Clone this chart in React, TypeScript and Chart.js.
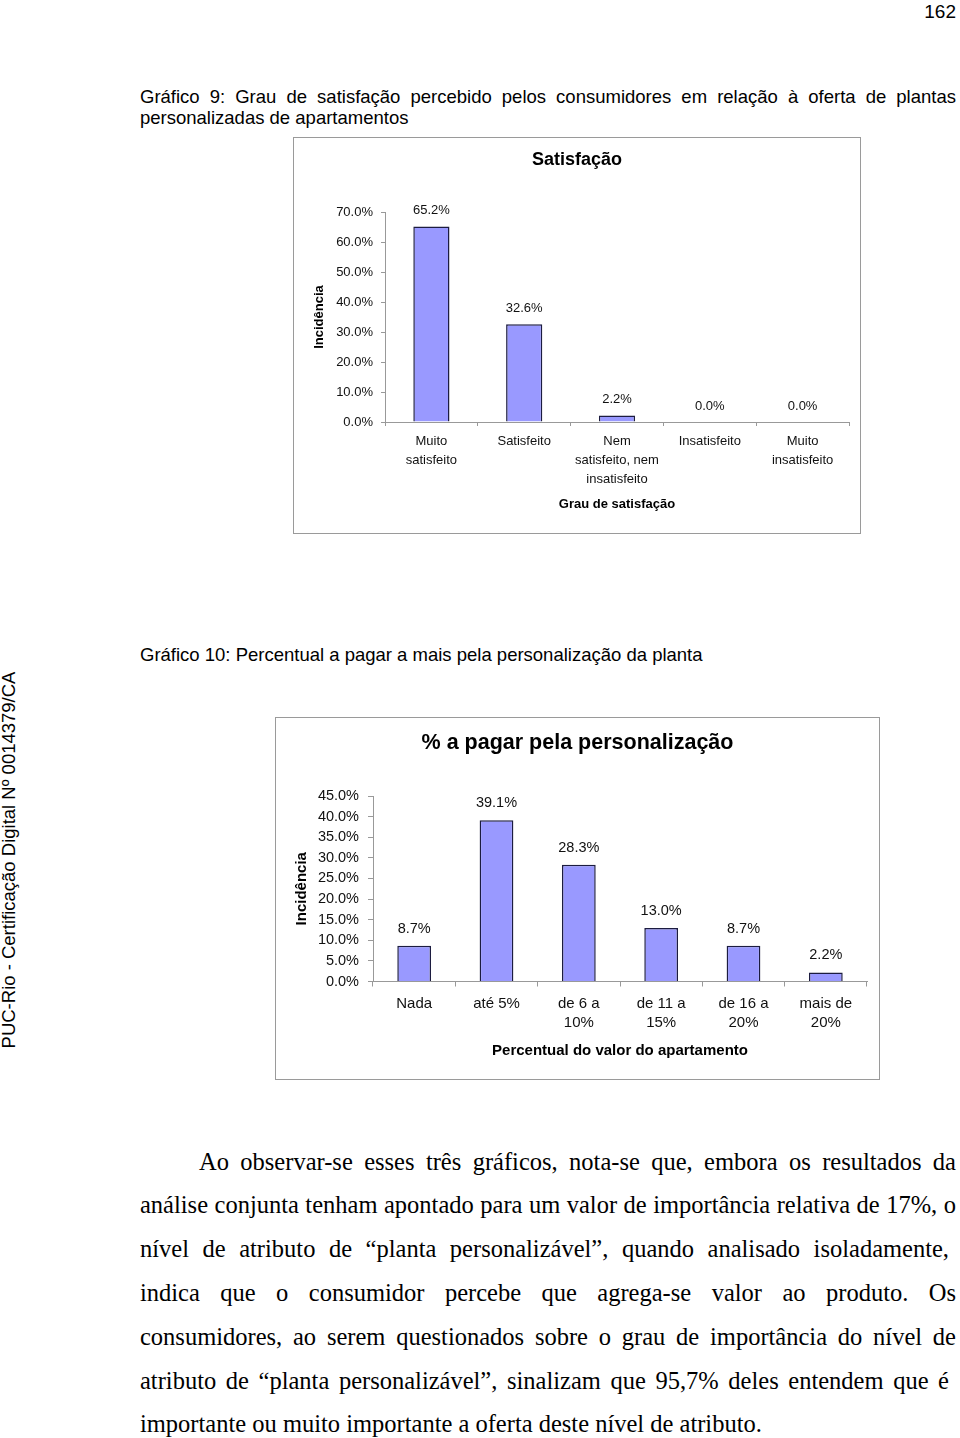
import React, { useEffect, useRef } from 'react';
import { Chart, registerables } from 'chart.js';

Chart.register(...registerables);

const SANS = '"Liberation Sans", Arial, sans-serif';
const SERIF = '"Liberation Serif", "Times New Roman", serif';

// ---- Chart 1 data ----
const satisfacaoTitle = 'Satisfação';
const satisfacaoCategories: string[][] = [
  ['Muito', 'satisfeito'],
  ['Satisfeito'],
  ['Nem', 'satisfeito, nem', 'insatisfeito'],
  ['Insatisfeito'],
  ['Muito', 'insatisfeito'],
];
const satisfacaoValues = [65.2, 32.6, 2.2, 0.0, 0.0];
const satisfacaoYTitle = 'Incidência';
const satisfacaoXTitle = 'Grau de satisfação';
const satisfacaoYMax = 70;
const satisfacaoYStep = 10;

// ---- Chart 2 data ----
const pagarTitle = '% a pagar pela personalização';
const pagarCategories: string[][] = [
  ['Nada'],
  ['até 5%'],
  ['de 6 a', '10%'],
  ['de 11 a', '15%'],
  ['de 16 a', '20%'],
  ['mais de', '20%'],
];
const pagarValues = [8.7, 39.1, 28.3, 13.0, 8.7, 2.2];
const pagarYTitle = 'Incidência';
const pagarXTitle = 'Percentual do valor do apartamento';
const pagarYMax = 45;
const pagarYStep = 5;

const valueLabels = {
  id: 'valueLabels',
  afterDatasetsDraw(chart: any, _args: any, opts: any) {
    const { ctx } = chart;
    const meta = chart.getDatasetMeta(0);
    const data = chart.data.datasets[0].data;
    ctx.save();
    ctx.font = `${opts.size}px ${SANS}`;
    ctx.fillStyle = opts.color || '#111';
    ctx.textAlign = 'center';
    ctx.textBaseline = 'middle';
    meta.data.forEach((bar: any, i: number) => {
      ctx.fillText(Number(data[i]).toFixed(1) + '%', bar.x, bar.y - opts.offset);
    });
    ctx.restore();
  },
};

type Spec = {
  title: string;
  categories: string[][];
  values: number[];
  yTitle: string;
  xTitle: string;
  yMax: number;
  yStep: number;
  width: number;
  height: number;
  titleSize: number;
  titlePad: { top: number; bottom: number };
  yScaleWidth: number;
  xScaleHeight: number;
  padLeft: number;
  padRight: number;
  tickSize: number;
  xTickSize: number;
  xLineHeight: number;
  axisTitleSize: number;
  yTitlePad: number;
  xTitlePad: number;
  tickLength: number;
  yTickPad: number;
  xTickPad: number;
  barPct: number;
  labelSize: number;
  labelOffset: number;
};

function BarChart({ spec }: { spec: Spec }) {
  const ref = useRef<HTMLCanvasElement | null>(null);
  useEffect(() => {
    if (!ref.current) return;
    const chart = new Chart(ref.current, {
      type: 'bar',
      data: {
        labels: spec.categories,
        datasets: [
          {
            data: spec.values,
            backgroundColor: '#9999ff',
            borderColor: '#1c1c40',
            borderWidth: 1.5,
            categoryPercentage: 1,
            barPercentage: spec.barPct,
          },
        ],
      },
      options: {
        responsive: false,
        animation: false,
        layout: { padding: { left: spec.padLeft, right: spec.padRight, top: 0, bottom: 0 } },
        plugins: {
          legend: { display: false },
          tooltip: { enabled: false },
          title: {
            display: true,
            text: spec.title,
            color: '#000',
            font: { family: SANS, size: spec.titleSize, weight: 'bold' },
            padding: spec.titlePad,
          },
          valueLabels: { size: spec.labelSize, offset: spec.labelOffset, color: '#111' },
        } as any,
        scales: {
          x: {
            grid: {
              drawOnChartArea: false,
              drawTicks: true,
              tickLength: spec.tickLength,
              color: '#999',
            },
            border: { display: true, color: '#999', width: 1 },
            ticks: {
              color: '#111',
              padding: spec.xTickPad,
              maxRotation: 0,
              autoSkip: false,
              font: { family: SANS, size: spec.xTickSize, lineHeight: spec.xLineHeight },
            },
            title: {
              display: true,
              text: spec.xTitle,
              color: '#000',
              font: { family: SANS, size: spec.axisTitleSize, weight: 'bold' },
              padding: { top: 0, bottom: spec.xTitlePad },
            },
            afterFit: (scale: any) => {
              scale.height = spec.xScaleHeight;
            },
          },
          y: {
            min: 0,
            max: spec.yMax,
            grid: {
              drawOnChartArea: false,
              drawTicks: true,
              tickLength: spec.tickLength,
              color: '#999',
            },
            border: { display: true, color: '#999', width: 1 },
            ticks: {
              stepSize: spec.yStep,
              color: '#111',
              padding: spec.yTickPad,
              font: { family: SANS, size: spec.tickSize },
              callback: (v: any) => Number(v).toFixed(1) + '%',
            },
            title: {
              display: true,
              text: spec.yTitle,
              color: '#000',
              font: { family: SANS, size: spec.axisTitleSize, weight: 'bold' },
              padding: { top: spec.yTitlePad, bottom: 0 },
            },
            afterFit: (scale: any) => {
              scale.width = spec.yScaleWidth;
            },
          },
        },
      },
      plugins: [valueLabels],
    } as any);
    return () => chart.destroy();
  }, [spec]);
  return <canvas ref={ref} width={spec.width} height={spec.height} style={{ display: 'block' }} />;
}

const spec1: Spec = {
  title: satisfacaoTitle,
  categories: satisfacaoCategories,
  values: satisfacaoValues,
  yTitle: satisfacaoYTitle,
  xTitle: satisfacaoXTitle,
  yMax: satisfacaoYMax,
  yStep: satisfacaoYStep,
  width: 568,
  height: 397,
  titleSize: 18,
  titlePad: { top: 12, bottom: 41.4 },
  yScaleWidth: 80,
  xScaleHeight: 112,
  padLeft: 12,
  padRight: 12,
  tickSize: 13,
  xTickSize: 13,
  xLineHeight: 19 / 13,
  axisTitleSize: 13,
  yTitlePad: 7,
  xTitlePad: 22,
  tickLength: 4,
  yTickPad: 8,
  xTickPad: 5.5,
  barPct: 0.39,
  labelSize: 13,
  labelOffset: 15.5,
};

const spec2: Spec = {
  title: pagarTitle,
  categories: pagarCategories,
  values: pagarValues,
  yTitle: pagarYTitle,
  xTitle: pagarXTitle,
  yMax: pagarYMax,
  yStep: pagarYStep,
  width: 605,
  height: 363,
  titleSize: 21.5,
  titlePad: { top: 13.1, bottom: 40.1 },
  yScaleWidth: 85,
  xScaleHeight: 98.5,
  padLeft: 13,
  padRight: 13,
  tickSize: 14.5,
  xTickSize: 15,
  xLineHeight: 19 / 15,
  axisTitleSize: 15,
  yTitlePad: 5,
  xTitlePad: 20,
  tickLength: 5,
  yTickPad: 9,
  xTickPad: 8,
  barPct: 0.41,
  labelSize: 14.5,
  labelOffset: 17,
};

const caption1Line1 =
  'Gráfico 9: Grau de satisfação percebido pelos consumidores em relação à oferta de plantas';
const caption1Line2 = 'personalizadas de apartamentos';
const caption2 = 'Gráfico 10: Percentual a pagar a mais pela personalização da planta';
const watermark = 'PUC-Rio - Certificação Digital Nº 0014379/CA';
const pageNumber = '162';
const paragraphLines = [
  'Ao observar-se esses três gráficos, nota-se que, embora os resultados da',
  'análise conjunta tenham apontado para um valor de importância relativa de 17%, o',
  'nível de atributo de “planta personalizável”, quando analisado isoladamente,',
  'indica que o consumidor percebe que agrega-se valor ao produto. Os',
  'consumidores, ao serem questionados sobre o grau de importância do nível de',
  'atributo de “planta personalizável”, sinalizam que 95,7% deles entendem que é',
  'importante ou muito importante a oferta deste nível de atributo.',
];
const paragraphCenters = [1162, 1205, 1249, 1293, 1337, 1381, 1424];
const paragraphRights = [956, 956, 949, 956, 956, 949, 0];

export default function App() {
  const abs = (s: React.CSSProperties): React.CSSProperties => ({ position: 'absolute', margin: 0, ...s });
  return (
    <div style={abs({ left: 0, top: 0, width: 960, height: 1438, background: '#fff', overflow: 'hidden', color: '#000' })}>
      <div style={abs({ right: 4, top: 1, fontFamily: SANS, fontSize: 19, lineHeight: '22px' })}>{pageNumber}</div>

      <div
        style={abs({
          left: 140,
          top: 86,
          width: 816,
          fontFamily: SANS,
          fontSize: 18.5,
          lineHeight: '22px',
          textAlign: 'justify',
          textAlignLast: 'justify',
          whiteSpace: 'nowrap',
        })}
      >
        {caption1Line1}
      </div>
      <div style={abs({ left: 140, top: 107, fontFamily: SANS, fontSize: 18.5, lineHeight: '22px', whiteSpace: 'nowrap' })}>
        {caption1Line2}
      </div>

      <div style={abs({ left: 293, top: 137, width: 568, height: 397 })}>
        <BarChart spec={spec1} />
      </div>
      <div style={abs({ left: 293, top: 137, width: 568, height: 397, border: '1px solid #9a9a9a', boxSizing: 'border-box', pointerEvents: 'none' })} />

      <div style={abs({ left: 140, top: 644, fontFamily: SANS, fontSize: 18.5, lineHeight: '22px', whiteSpace: 'nowrap' })}>
        {caption2}
      </div>

      <div
        style={abs({
          left: 9 - 210,
          top: 860 - 11,
          width: 420,
          height: 22,
          lineHeight: '22px',
          textAlign: 'center',
          fontFamily: SANS,
          fontSize: 18.5,
          whiteSpace: 'nowrap',
          transform: 'rotate(-90deg)',
          transformOrigin: '50% 50%',
        })}
      >
        {watermark}
      </div>

      <div style={abs({ left: 275, top: 717, width: 605, height: 363 })}>
        <BarChart spec={spec2} />
      </div>
      <div style={abs({ left: 275, top: 717, width: 605, height: 363, border: '1px solid #9a9a9a', boxSizing: 'border-box', pointerEvents: 'none' })} />

      {paragraphLines.map((line, i) => {
        const left = i === 0 ? 199 : 140;
        const last = i === paragraphLines.length - 1;
        const style: React.CSSProperties = {
          left,
          top: paragraphCenters[i] - 22,
          fontFamily: SERIF,
          fontSize: 24.5,
          lineHeight: '44px',
          whiteSpace: 'nowrap',
        };
        if (!last) {
          style.width = paragraphRights[i] - left;
          style.textAlign = 'justify';
          style.textAlignLast = 'justify';
        }
        return (
          <div key={i} style={abs(style)}>
            {line}
          </div>
        );
      })}
    </div>
  );
}
